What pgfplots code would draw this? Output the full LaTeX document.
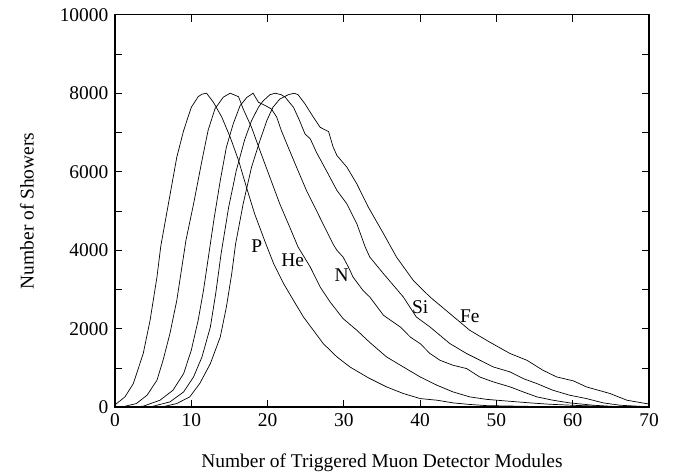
\documentclass[border=0pt]{standalone}
\usepackage{fontspec}
\setmainfont{Liberation Serif}
\usepackage{pgfplots}
\pgfplotsset{compat=1.18}
\begin{document}
\fontsize{19.5}{23}\selectfont
\begin{tikzpicture}
\begin{axis}[name=ax, scale only axis, width=534bp, height=392.5bp,
  xmin=0, xmax=70, ymin=0, ymax=10000,
  xtick={0,10,...,70}, ytick={0,2000,...,10000}, minor ytick={1000,3000,...,9000},
  scaled y ticks=false,
  tick align=inside, major tick length=7bp, minor tick length=7bp,
  axis line style={line width=1.6pt}, tick style={line width=0.8pt, black},
  /pgf/number format/1000 sep={}, /pgf/number format/assume math mode=true,
  ticklabel style={font=\fontsize{19.5}{23}\selectfont},
  xlabel={Number of Triggered Muon Detector Modules},
  ylabel={Number of Showers},
  xlabel style={font=\fontsize{19.5}{23}\selectfont, at={(axis description cs:0.5,-0.1529)}, anchor=base},
  ylabel style={font=\fontsize{19.5}{23}\selectfont, at={(axis description cs:-0.165,0.5)}, anchor=center},
  cycle list={{black, line width=0.7pt, mark=none}},
]
% P
\addplot[black, line width=0.7pt] coordinates {(0,60) (1.3,262) (2.4,600) (3.7,1366) (4.6,2214) (5.5,3316) (6.0,4100) (7.0,5180) (8.1,6370) (9.0,7050) (10.0,7640) (10.9,7910) (11.4,7975) (12.0,8000) (12.9,7770) (14.0,7390) (15.1,6880) (16.2,6285) (17.3,5560) (18.3,4930) (19.8,4150) (20.8,3656) (22.1,3150) (23.4,2720) (24.7,2300) (26.0,1960) (27.3,1620) (29.1,1280) (30.8,1025) (33.2,750) (35.6,517) (37.8,348) (40.0,220) (42.2,178) (44.3,110) (46.5,70) (48.7,40) (53.1,25) (58,10) (70,0)};
% He
\addplot[black, line width=0.7pt] coordinates {(0,0) (1.0,10) (2.8,93) (4.2,305) (5.5,687) (6.3,1196) (7.2,1875) (8.1,2720) (8.7,3486) (9.3,4250) (10.3,5180) (11.4,6285) (12.2,7050) (13.1,7600) (14.2,7900) (15.1,8000) (16.2,7910) (16.8,7600) (17.9,7130) (19.0,6540) (20.3,5860) (21.6,5180) (22.9,4590) (24.0,4080) (25.6,3570) (26.9,3060) (28.2,2680) (29.9,2257) (31.7,1960) (33.4,1650) (35.6,1280) (37.8,1025) (40.0,771) (42.2,560) (44.3,390) (46.5,263) (48.7,200) (51.8,150) (54.4,110) (57.0,75) (60.5,45) (65,15) (70,5)};
% N
\addplot[black, line width=0.7pt] coordinates {(1.5,0) (3.7,25) (5.9,178) (7.6,432) (9.0,857) (10.0,1450) (10.9,2214) (11.6,2977) (12.3,3900) (13.0,4820) (13.8,5776) (14.6,6625) (15.5,7220) (16.4,7685) (17.3,7895) (18.1,8000) (18.8,7770) (19.7,7685) (20.5,7600) (21.2,7390) (21.8,7050) (22.7,6625) (23.8,6115) (25.1,5520) (26.4,5013) (27.7,4500) (28.6,4150) (29.1,3995) (29.9,3825) (30.6,3570) (31.2,3316) (32.5,2977) (33.4,2807) (35.2,2341) (37.4,2043) (38.7,1789) (40.0,1620) (41.3,1366) (42.6,1196) (44.3,1069) (46.1,984) (47.8,771) (49.6,644) (51.8,517) (53.5,390) (55.3,263) (57.4,178) (59.6,110) (62.7,50) (66.2,10) (70,0)};
% Si
\addplot[black, line width=0.7pt] coordinates {(4.5,0) (7.2,135) (9.0,390) (10.3,771) (11.4,1280) (12.5,2043) (13.2,2893) (13.9,3900) (14.9,5097) (15.9,6030) (17.0,6815) (17.9,7300) (18.8,7640) (19.4,7800) (20.3,7960) (21.0,8000) (21.8,7960) (22.3,7900) (23.4,7640) (24.2,7300) (24.9,6964) (25.6,6837) (26.4,6496) (27.7,6030) (29.1,5520) (30.4,5180) (31.7,4675) (32.8,4080) (33.4,3825) (35.2,3400) (36.5,3104) (37.8,2807) (39.5,2298) (41.3,2043) (43.9,1620) (46.1,1366) (49.6,1025) (51.8,898) (53.5,730) (55.3,602) (57.4,432) (59.6,305) (61.8,220) (64.0,110) (66.2,50) (70,10)};
% Fe
\addplot[black, line width=0.7pt] coordinates {(6,0) (8.1,93) (9.8,263) (11.1,600) (12.5,1110) (13.8,1790) (14.6,2550) (15.3,3400) (15.8,4150) (16.8,5180) (17.9,6115) (19.0,6794) (19.9,7300) (20.7,7640) (21.6,7850) (22.7,7960) (23.5,8000) (24.0,7960) (24.9,7730) (26.0,7390) (26.9,7130) (28.0,7020) (28.6,6625) (29.1,6410) (30.4,6115) (31.7,5690) (33.2,5100) (35.2,4420) (36.9,3825) (39.1,3230) (41.3,2807) (43.9,2385) (46.5,1960) (49.1,1660) (51.8,1366) (54.0,1196) (56.1,941) (57.9,771) (60.1,670) (61.8,517) (64.9,348) (67.1,178) (70,80)};
\node at (axis cs:18.6,4100) {P};
\node at (axis cs:23.3,3740) {He};
\node at (axis cs:29.7,3360) {N};
\node at (axis cs:40.0,2550) {Si};
\node at (axis cs:46.5,2330) {Fe};
\end{axis}
\pgfresetboundingbox
\path[use as bounding box] ([shift={(-115bp,-66.8bp)}]ax.south west) rectangle ([shift={(27bp,14.7bp)}]ax.north east);
\end{tikzpicture}
\end{document}
